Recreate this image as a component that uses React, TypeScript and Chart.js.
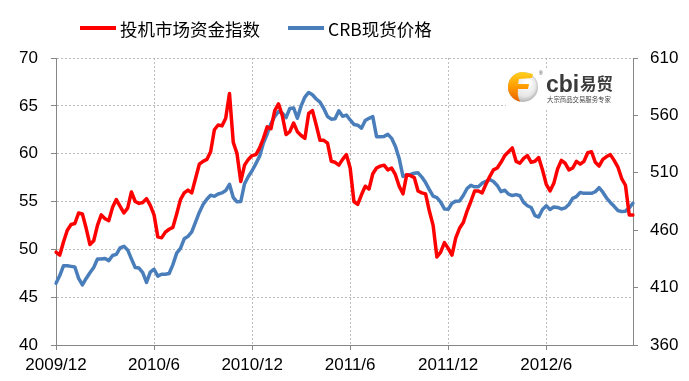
import { useEffect, useRef } from 'react';
import { Chart, registerables } from 'chart.js';

Chart.register(...registerables);

// ---- data ----
const tickLabels = ['2009/12', '2010/6', '2010/12', '2011/6', '2011/12', '2012/6'];
const weeksPerTick = 26;
const seriesNames = ['投机市场资金指数', 'CRB现货价格'];
const logoName = 'cbi';
const logoCn = '易贸';
const logoSlogan = '大宗商品交易服务专家';

const speculativeFunds = [
  49.7, 49.4, 50.8, 52.0, 52.6, 52.7, 53.8, 53.7, 52.2, 50.5,
  50.9, 52.5, 53.6, 53.2, 53.0, 54.4, 55.2, 54.5, 53.8, 54.3,
  56.0, 55.0, 54.8, 54.9, 55.3, 54.6, 53.6, 51.3, 51.2, 51.8,
  52.1, 52.3, 53.7, 55.2, 55.9, 56.2, 55.9, 57.4, 58.9, 59.2,
  59.4, 60.2, 62.5, 63.0, 62.9, 63.7, 66.3, 61.2, 60.0, 57.1,
  58.8, 59.4, 59.8, 59.9, 60.6, 61.6, 62.8, 62.6, 64.5, 65.2,
  64.0, 62.0, 62.3, 63.2, 62.3, 61.9, 61.6, 64.2, 64.5, 63.0,
  61.4, 61.4, 61.1, 59.2, 59.1, 58.8, 59.4, 59.9, 58.5, 55.0,
  54.7, 55.7, 56.6, 56.3, 57.9, 58.5, 58.7, 58.8, 58.3, 58.5,
  57.8, 56.6, 55.8, 57.8, 57.7, 57.5, 56.1, 55.9, 55.8, 54.0,
  52.5, 49.2, 49.7, 50.7, 50.1, 49.4, 51.2, 52.2, 52.8, 54.0,
  55.0, 56.1, 56.1, 55.9, 56.8, 57.6, 58.3, 58.5, 59.1, 59.8,
  60.2, 60.6, 59.2, 59.0, 59.5, 59.8, 59.1, 59.2, 59.6, 58.3,
  56.8, 56.1, 56.9, 58.4, 59.3, 59.0, 58.3, 58.5, 59.2, 58.9,
  59.2, 60.1, 60.2, 59.1, 58.7, 59.4, 59.7, 59.9, 59.3, 58.6,
  57.4, 56.7, 53.6, 53.6,
];

const crbSpot = [
  413.8, 420.5, 429.1, 429.0, 428.5, 428.0, 418.0, 412.3, 418.0, 423.0,
  427.5, 434.9, 434.9, 435.4, 433.5, 438.0, 439.0, 444.6, 446.0, 442.8,
  435.0, 427.5, 427.0, 423.0, 414.5, 423.5, 426.0, 420.0, 421.6, 421.6,
  422.3, 430.0, 440.0, 444.1, 452.5, 454.6, 458.5, 467.0, 475.5, 482.3,
  487.0, 490.5, 489.5, 491.5, 492.5, 494.5, 500.0, 488.5, 484.7, 485.0,
  500.5, 506.8, 511.8, 518.0, 524.5, 536.0, 543.8, 552.8, 559.0, 563.3,
  562.0, 558.0, 566.0, 566.5, 557.5, 568.3, 576.0, 580.0, 578.0, 574.3,
  571.5, 566.0, 559.0, 556.7, 557.0, 564.0, 559.2, 560.3, 556.0, 552.1,
  551.5, 548.8, 555.5, 557.5, 558.9, 541.5, 541.5, 541.7, 543.5, 540.0,
  533.0, 522.5, 506.8, 508.2, 508.6, 509.7, 510.0, 506.3, 501.5, 495.4,
  489.7, 488.3, 484.5, 478.5, 478.3, 483.5, 485.3, 485.5, 490.2, 496.3,
  499.1, 497.8, 497.8, 501.0, 502.5, 504.2, 502.4, 499.0, 493.6, 494.8,
  491.4, 490.2, 491.0, 490.0, 484.2, 481.3, 479.8, 472.8, 471.5, 478.0,
  481.2, 478.0, 480.3, 479.8, 478.5, 479.4, 482.4, 487.7, 489.3, 492.8,
  492.1, 492.1, 492.1, 493.5, 497.0, 493.1, 488.0, 484.2, 480.8, 477.2,
  476.2, 476.6, 479.5, 483.5,
];

const leftRange = { min: 40, max: 70, step: 5 };
const rightRange = { min: 360, max: 610, step: 50 };

// ---- styling ----
const RED = '#FF0000';
const BLUE = '#4A7EBB';
const AXIS = '#868686';
const GRID = '#BDBDBD';
const TICK_FONT = { family: "'Liberation Sans', Arial, sans-serif", size: 17 };

const weekLabels = speculativeFunds.map((_, i) =>
  i % weeksPerTick === 0 ? tickLabels[i / weeksPerTick] ?? '' : ''
);

const legendPlugin = {
  id: 'customLegend',
  afterDraw(chart: any) {
    const ctx = chart.ctx as CanvasRenderingContext2D;
    ctx.save();
    ctx.font = "17.5px 'Noto Sans CJK SC', sans-serif";
    ctx.textBaseline = 'middle';
    let x = 80;
    const y = 28;
    chart.data.datasets.forEach((ds: any) => {
      ctx.strokeStyle = ds.borderColor;
      ctx.lineWidth = 4;
      ctx.beginPath();
      ctx.moveTo(x, y);
      ctx.lineTo(x + 36, y);
      ctx.stroke();
      ctx.fillStyle = '#000';
      ctx.fillText(ds.label, x + 40, y + 1);
      x += 40 + ctx.measureText(ds.label).width + 28;
    });
    ctx.restore();
  },
};

const logoPlugin = {
  id: 'logo',
  afterDraw(chart: any) {
    const ctx = chart.ctx as CanvasRenderingContext2D;
    ctx.save();
    ctx.fillStyle = '#fff';
    ctx.fillRect(506, 69, 125, 39);
    const cx = 523, cy = 87, r = 15;
    const g = ctx.createRadialGradient(528, 82, 2, cx, cy, r + 1);
    g.addColorStop(0, '#ffffff');
    g.addColorStop(0.65, '#e6e6e6');
    g.addColorStop(1, '#a9a9a9');
    ctx.fillStyle = g;
    ctx.beginPath();
    ctx.arc(cx, cy, r, 0, Math.PI * 2);
    ctx.fill();
    const og = ctx.createLinearGradient(0, cy - r, 0, cy + r);
    og.addColorStop(0, '#ffd21f');
    og.addColorStop(0.5, '#ff9a00');
    og.addColorStop(1, '#e85f00');
    ctx.fillStyle = og;
    ctx.beginPath();
    ctx.arc(cx, cy, r, Math.PI * 0.55, Math.PI * 1.5);
    ctx.lineTo(cx + 10, cy - r + 2);
    ctx.lineTo(cx + 9, cy - 9);
    ctx.lineTo(cx - 4, cy - 8);
    ctx.lineTo(cx - 5, cy - 3);
    ctx.lineTo(cx + 6, cy - 3);
    ctx.lineTo(cx + 5, cy + 2);
    ctx.lineTo(cx - 5, cy + 2);
    ctx.quadraticCurveTo(cx - 6, cy + 10, cx - 3, cy + r - 1);
    ctx.closePath();
    ctx.fill();
    ctx.fillStyle = '#3a3a3a';
    ctx.font = "5px 'Liberation Sans', sans-serif";
    ctx.fillText('®', 539, 75);
    ctx.font = "bold 23px 'Liberation Sans', Arial, sans-serif";
    ctx.textBaseline = 'alphabetic';
    ctx.fillText(logoName, 546, 92);
    ctx.font = "bold 16.5px 'Noto Sans CJK SC', sans-serif";
    ctx.fillText(logoCn, 580, 90);
    ctx.fillStyle = '#444';
    ctx.font = "6.4px 'Noto Sans CJK SC', sans-serif";
    ctx.fillText(logoSlogan, 547, 102);
    ctx.restore();
  },
};

export default function App() {
  const ref = useRef<HTMLCanvasElement>(null);

  useEffect(() => {
    if (!ref.current) return;
    const chart = new Chart(ref.current, {
      type: 'line',
      data: {
        labels: weekLabels,
        datasets: [
          {
            label: seriesNames[0],
            data: speculativeFunds,
            borderColor: RED,
            backgroundColor: RED,
            borderWidth: 3.5,
            pointRadius: 0,
            tension: 0,
            borderJoinStyle: 'round',
            borderCapStyle: 'round',
            yAxisID: 'y',
          },
          {
            label: seriesNames[1],
            data: crbSpot,
            borderColor: BLUE,
            backgroundColor: BLUE,
            borderWidth: 3.5,
            pointRadius: 0,
            tension: 0,
            borderJoinStyle: 'round',
            borderCapStyle: 'round',
            yAxisID: 'y1',
          },
        ],
      },
      options: {
        responsive: false,
        animation: false,
        devicePixelRatio: 1,
        layout: { padding: { top: 58, left: 0, right: 0, bottom: 0 } },
        plugins: {
          legend: { display: false },
          tooltip: { enabled: false },
        },
        scales: {
          x: {
            type: 'category',
            offset: false,
            grid: {
              color: (c: any) => (c.index % weeksPerTick === 0 && c.index > 0 ? GRID : 'rgba(0,0,0,0)'),
              tickColor: (c: any) => (c.index % weeksPerTick === 0 ? AXIS : 'rgba(0,0,0,0)'),
              lineWidth: 1,
              tickLength: 5,
            },
            border: { display: true, color: AXIS, width: 1, dash: [2, 2] },
            ticks: {
              autoSkip: false,
              maxRotation: 0,
              minRotation: 0,
              padding: 5,
              color: '#000',
              font: TICK_FONT,
              callback: (_v: any, i: number) => weekLabels[i],
            },
            afterFit: (s: any) => {
              s.height = 36;
            },
          },
          y: {
            position: 'left',
            min: leftRange.min,
            max: leftRange.max,
            grid: {
              color: (c: any) => (c.index === 0 ? 'rgba(0,0,0,0)' : GRID),
              tickColor: AXIS,
              lineWidth: 1,
              tickLength: 5,
            },
            border: { display: true, color: AXIS, width: 1, dash: [2, 2] },
            ticks: { stepSize: leftRange.step, padding: 13, color: '#000', font: TICK_FONT },
            afterFit: (s: any) => {
              s.width = 56;
            },
          },
          y1: {
            position: 'right',
            min: rightRange.min,
            max: rightRange.max,
            grid: { drawOnChartArea: false, tickColor: AXIS, tickLength: 5 },
            border: { display: true, color: AXIS, width: 1 },
            ticks: { stepSize: rightRange.step, padding: 12, color: '#000', font: TICK_FONT },
            afterFit: (s: any) => {
              s.width = 56;
            },
          },
        },
      },
      plugins: [legendPlugin, logoPlugin],
    } as any);
    return () => chart.destroy();
  }, []);

  return (
    <div style={{ position: 'fixed', left: 0, top: 0, width: 689, height: 381, background: '#fff' }}>
      <canvas ref={ref} width={689} height={381} style={{ width: 689, height: 381, display: 'block' }} />
    </div>
  );
}
